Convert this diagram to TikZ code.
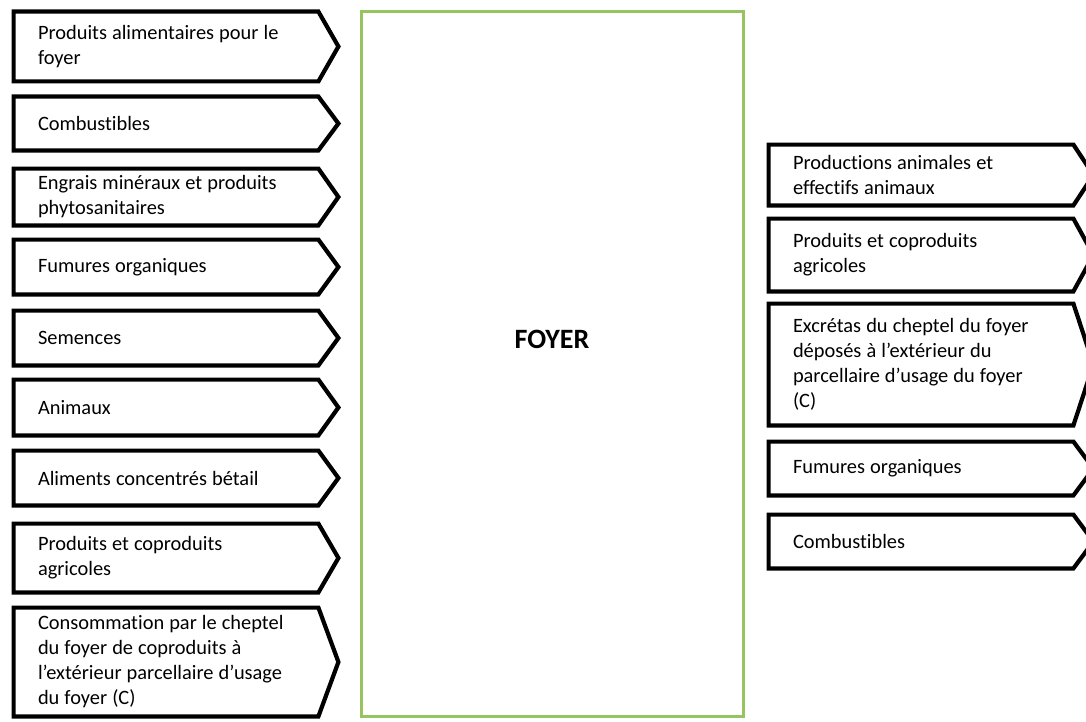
\documentclass[tikz,border=0pt]{standalone}
\usepackage{fontspec}
\setmainfont{Carlito}[Ligatures=NoCommon, WordSpace=1.1]
\definecolor{foyergreen}{RGB}{150,196,96}
\tikzset{
  flux/.style={rectangle, inner xsep=12pt, inner ysep=0pt, text width=128pt, align=flush left, minimum width=152pt, font=\fontsize{10.2}{12.5}\selectfont},
  chevron/.style={draw=black, line width=2.1pt},
  foyerbox/.style={rectangle, draw=foyergreen, line width=1.8pt, minimum width=191pt, minimum height=352.5pt},
  }

\begin{document}
\begin{tikzpicture}[x=0.5pt, y=-0.5pt]
  \clip (0,0) rectangle (1086,722);
  \fill[white] (0,0) rectangle (1086,722);
  % the household in the middle
  \node [foyerbox] (foyer) at (552.5,364) {};
  \node [font=\fontsize{14}{16}\selectfont\bfseries] (foyer label) at (552,339) {FOYER};
  % inputs on the left
  \node [flux, minimum height=34.5pt] (food in)    at (166,46.5)  {Produits alimentaires pour le\\foyer};
  \node [flux, minimum height=26.5pt] (fuel in)    at (166,123.5) {Combustibles};
  \node [flux, minimum height=28pt]   (mineral in) at (166,197)   {Engrais minéraux et produits\\phytosanitaires};
  \node [flux, minimum height=27pt]   (manure in)  at (166,267)   {Fumures organiques};
  \node [flux, minimum height=27pt]   (seed in)    at (166,338)   {Semences};
  \node [flux, minimum height=27.5pt] (animals in) at (166,407.5) {Animaux};
  \node [flux, minimum height=27pt]   (feed in)    at (166,478)   {Aliments concentrés bétail};
  \node [flux, minimum height=34pt]   (crops in)   at (166,558)   {Produits et coproduits\\agricoles};
  \node [flux, minimum height=54pt]   (grazing in) at (166,662)   {Consommation par le cheptel\\du foyer de coproduits à\\l’extérieur parcellaire d’usage\\du foyer (C)};
  % outputs on the right
  \node [flux, minimum height=30pt]   (animal out)  at (921,175)   {Productions animales et\\effectifs animaux};
  \node [flux, minimum height=36pt]   (crops out)   at (921,255)   {Produits et coproduits\\agricoles};
  \node [flux, minimum height=60.5pt] (excreta out) at (921,364.5) {Excrétas du cheptel du foyer\\déposés à l’extérieur du\\parcellaire d’usage du foyer\\(C)};
  \node [flux, minimum height=26.5pt] (manure out)  at (921,468.5) {Fumures organiques};
  \node [flux, minimum height=26.5pt] (fuel out)    at (921,541.5) {Combustibles};
  \foreach \n in {food in, fuel in, mineral in, manure in, seed in, animals in, feed in, crops in, grazing in,
                  animal out, crops out, excreta out, manure out, fuel out}
    \draw [chevron] (\n.north west) -- (\n.north east) -- ([xshift=10pt]\n.east)
                    -- (\n.south east) -- (\n.south west) -- cycle;
\end{tikzpicture}
\end{document}
